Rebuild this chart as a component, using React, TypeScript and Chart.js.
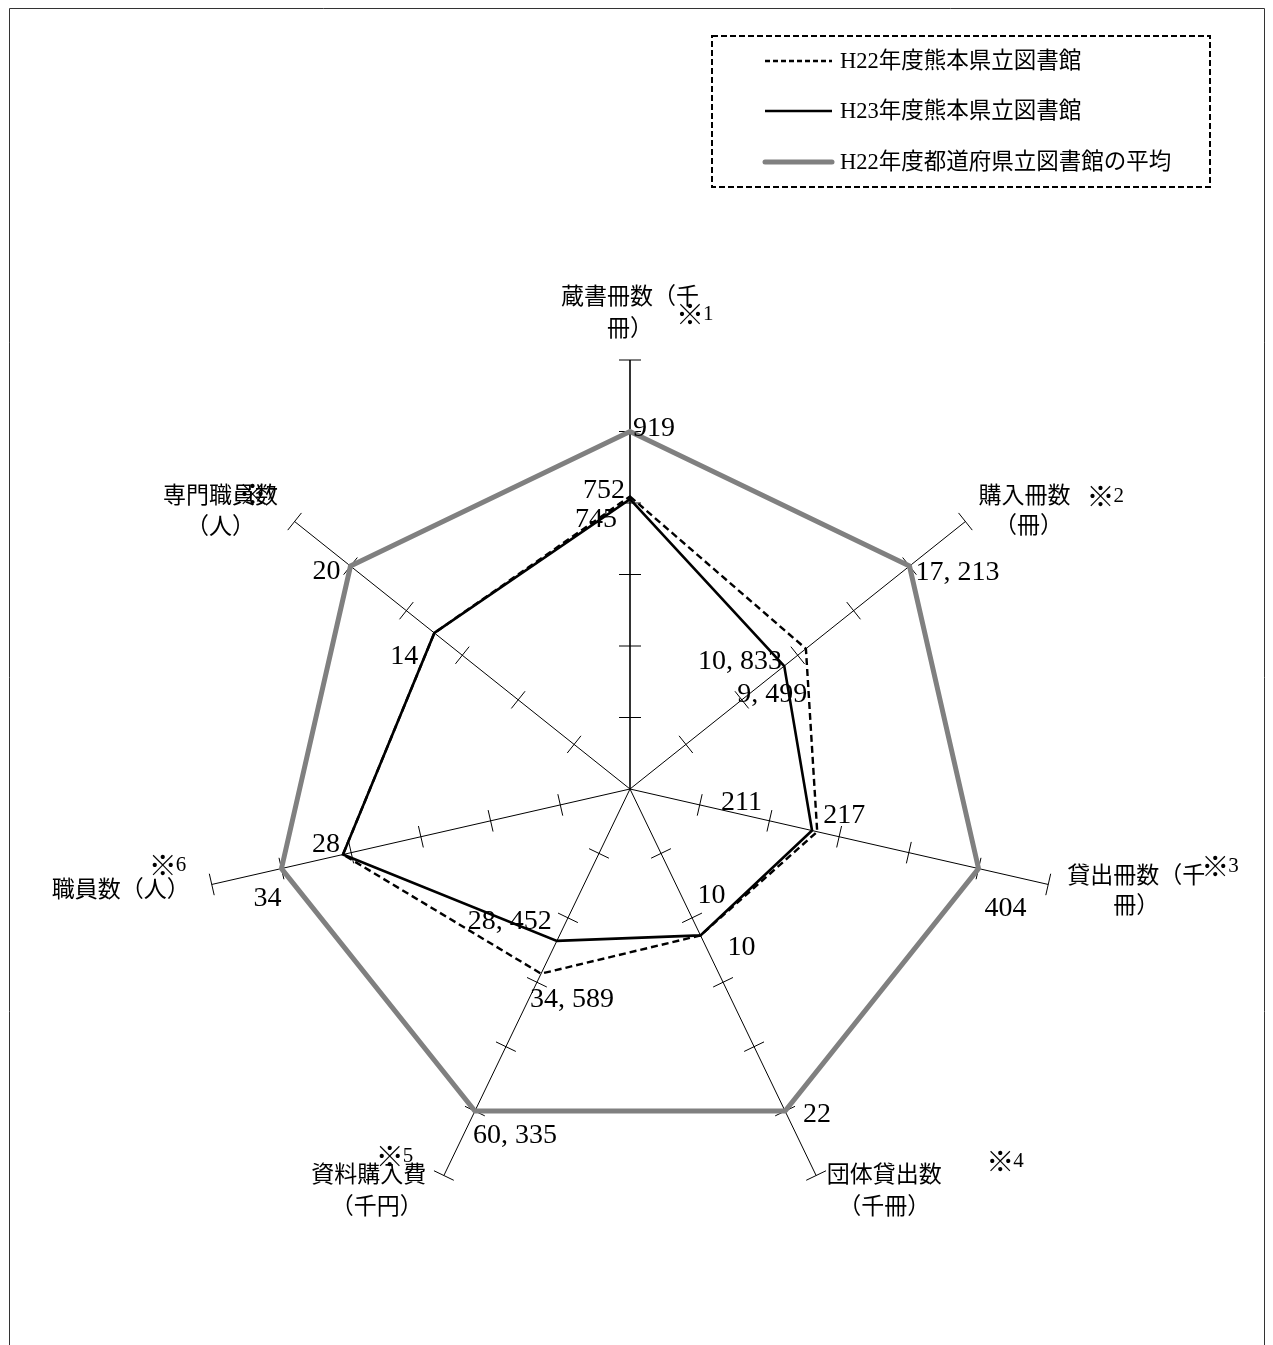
import React, { useEffect, useRef } from 'react';
import { Chart, registerables } from 'chart.js';

Chart.register(...registerables);

// ---- data ----
const categories = [
  '蔵書冊数（千冊）',
  '購入冊数（冊）',
  '貸出冊数（千冊）',
  '団体貸出数（千冊）',
  '資料購入費（千円）',
  '職員数（人）',
  '専門職員数（人）',
];
const seriesNames = [
  'H22年度熊本県立図書館',
  'H23年度熊本県立図書館',
  'H22年度都道府県立図書館の平均',
];
const h22Values = [752, 10833, 217, 10, 34589, 28, 14];
const h23Values = [745, 9499, 211, 10, 28452, 28, 14];
const avgValues = [919, 17213, 404, 22, 60335, 34, 20];
const scaleTicks = [20, 40, 60, 80, 100, 120];
const h23LabelShown = [true, true, true, true, true, false, false];

// values drawn as percentage of the national average
const toPct = (vals: number[]) => vals.map((v, i) => (v / avgValues[i]) * 100);

// ---- styles / label placement (offsets relative to the library's points) ----
const NUM_FONT = "28px 'Liberation Serif', 'Noto Sans CJK JP', serif";
const LBL_FONT = "23px 'Liberation Serif', 'Noto Sans CJK JP', serif";
const MARK_FONT = "28px 'Noto Sans CJK JP', sans-serif";
const MARK_DIGIT_FONT = "21px 'Liberation Serif', serif";
const LEG_FONT = "22.5px 'Liberation Serif', 'Noto Sans CJK JP', serif";

type Off = { a: CanvasTextAlign; dx: number; dy: number };
const avgOff: Off[] = [
  { a: 'left', dx: 3, dy: -3 },
  { a: 'left', dx: 6, dy: 7 },
  { a: 'left', dx: 6, dy: 40 },
  { a: 'left', dx: 18, dy: 4 },
  { a: 'left', dx: -2, dy: 25 },
  { a: 'left', dx: -28, dy: 30 },
  { a: 'right', dx: -10, dy: 6 },
];
const h22Off: Off[] = [
  { a: 'right', dx: -5, dy: -6 },
  { a: 'right', dx: -24, dy: 13 },
  { a: 'left', dx: 6, dy: -16 },
  { a: 'left', dx: -3, dy: -40 },
  { a: 'left', dx: -11, dy: 26 },
  { a: 'right', dx: -3, dy: -10 },
  { a: 'right', dx: -16, dy: 24 },
];
const h23Off: Off[] = [
  { a: 'right', dx: -13, dy: 20 },
  { a: 'left', dx: -47, dy: 29 },
  { a: 'right', dx: -50, dy: -28 },
  { a: 'left', dx: 27, dy: 12 },
  { a: 'right', dx: -5, dy: -19 },
  { a: 'left', dx: 0, dy: 0 },
  { a: 'left', dx: 0, dy: 0 },
];

type Piece = { t: string; a: CanvasTextAlign; dx: number; dy: number };
const axisLabelPieces: Piece[][] = [
  [
    { t: '蔵書冊数（千', a: 'center', dx: 0, dy: -62 },
    { t: '冊）', a: 'center', dx: 0, dy: -30 },
    { t: '※1', a: 'left', dx: 46, dy: -46 },
  ],
  [
    { t: '購入冊数', a: 'left', dx: 13, dy: -25 },
    { t: '※2', a: 'left', dx: 121, dy: -25 },
    { t: '（冊）', a: 'center', dx: 63, dy: 5 },
  ],
  [
    { t: '貸出冊数（千', a: 'left', dx: 19, dy: -8 },
    { t: '※3', a: 'left', dx: 153, dy: -18 },
    { t: '冊）', a: 'center', dx: 88, dy: 22 },
  ],
  [
    { t: '団体貸出数', a: 'center', dx: 68, dy: 0 },
    { t: '（千冊）', a: 'center', dx: 68, dy: 32 },
    { t: '※4', a: 'left', dx: 170, dy: -14 },
  ],
  [
    { t: '資料購入費', a: 'center', dx: -75, dy: 0 },
    { t: '（千円）', a: 'center', dx: -67, dy: 32 },
    { t: '※5', a: 'left', dx: -68, dy: -19 },
  ],
  [
    { t: '職員数（人）', a: 'right', dx: -22, dy: 6 },
    { t: '※6', a: 'left', dx: -63, dy: -19 },
  ],
  [
    { t: '専門職員数', a: 'center', dx: -74, dy: -25 },
    { t: '（人）', a: 'center', dx: -74, dy: 6 },
    { t: '※7', a: 'left', dx: -56, dy: -27 },
  ],
];

const fmt = (v: number) => v.toLocaleString('en-US').replace(/,/g, ', ');

const decorPlugin = {
  id: 'radarDecor',
  beforeDraw(chart: any) {
    const ctx = chart.ctx as CanvasRenderingContext2D;
    ctx.save();
    ctx.strokeStyle = '#333';
    ctx.lineWidth = 1;
    ctx.beginPath();
    ctx.moveTo(9.5, 1400);
    ctx.lineTo(9.5, 8.5);
    ctx.lineTo(1264.5, 8.5);
    ctx.lineTo(1264.5, 1400);
    ctx.stroke();
    ctx.restore();
  },
  beforeDatasetsDraw(chart: any) {
    const ctx = chart.ctx as CanvasRenderingContext2D;
    const scale = chart.scales.r;
    ctx.save();
    ctx.strokeStyle = '#000';
    ctx.lineWidth = 1;
    for (let i = 0; i < categories.length; i++) {
      for (const t of scaleTicks) {
        const d = scale.getDistanceFromCenterForValue(t);
        const p = scale.getPointPosition(i, d);
        const pa = p.angle + Math.PI / 2;
        const hx = Math.cos(pa) * 11;
        const hy = Math.sin(pa) * 11;
        ctx.beginPath();
        ctx.moveTo(p.x - hx, p.y - hy);
        ctx.lineTo(p.x + hx, p.y + hy);
        ctx.stroke();
      }
    }
    ctx.restore();
  },
  afterDatasetsDraw(chart: any) {
    const ctx = chart.ctx as CanvasRenderingContext2D;
    const scale = chart.scales.r;
    ctx.save();
    ctx.fillStyle = '#000';
    ctx.textBaseline = 'middle';

    // data labels
    ctx.font = NUM_FONT;
    const sets: { vals: number[]; off: Off[]; shown: boolean[] }[] = [
      { vals: avgValues, off: avgOff, shown: avgValues.map(() => true) },
      { vals: h22Values, off: h22Off, shown: h22Values.map(() => true) },
      { vals: h23Values, off: h23Off, shown: h23LabelShown },
    ];
    for (const s of sets) {
      const pct = toPct(s.vals);
      for (let i = 0; i < s.vals.length; i++) {
        if (!s.shown[i]) continue;
        const p = scale.getPointPosition(i, scale.getDistanceFromCenterForValue(pct[i]));
        ctx.textAlign = s.off[i].a;
        ctx.fillText(fmt(s.vals[i]), p.x + s.off[i].dx, p.y + s.off[i].dy);
      }
    }

    // axis labels
    const rMax = scale.getDistanceFromCenterForValue(scaleTicks[scaleTicks.length - 1]);
    for (let i = 0; i < categories.length; i++) {
      const p = scale.getPointPosition(i, rMax);
      for (const pc of axisLabelPieces[i]) {
        const x = p.x + pc.dx;
        const y = p.y + pc.dy;
        if (pc.t.startsWith('※')) {
          ctx.textAlign = 'left';
          ctx.font = MARK_FONT;
          ctx.fillText('※', x, y);
          const w = ctx.measureText('※').width;
          ctx.font = MARK_DIGIT_FONT;
          ctx.fillText(pc.t.slice(1), x + w - 1, y);
        } else {
          ctx.font = LBL_FONT;
          ctx.textAlign = pc.a;
          ctx.fillText(pc.t, x, y);
        }
      }
    }

    // legend
    const bx = 712, by = 36, bw = 498, bh = 151;
    ctx.strokeStyle = '#000';
    ctx.lineWidth = 2;
    ctx.setLineDash([6, 3]);
    ctx.strokeRect(bx, by, bw, bh);
    const rows = [61, 111, 162];
    const styles = chart.data.datasets;
    const order = [1, 0, 2]; // dataset index for legend rows (H22, H23, avg)
    ctx.font = LEG_FONT;
    ctx.textAlign = 'left';
    for (let k = 0; k < 3; k++) {
      const ds = styles[order[k]];
      ctx.save();
      ctx.strokeStyle = ds.borderColor;
      ctx.lineWidth = ds.borderWidth;
      ctx.setLineDash(k === 0 ? [5, 3] : []);
      ctx.lineCap = k === 2 ? 'round' : 'butt';
      ctx.beginPath();
      ctx.moveTo(765, rows[k]);
      ctx.lineTo(832, rows[k]);
      ctx.stroke();
      ctx.restore();
      ctx.fillText(ds.label, 840, rows[k] + 1);
    }
    ctx.restore();
  },
};

export default function App() {
  const ref = useRef<HTMLCanvasElement | null>(null);
  useEffect(() => {
    if (!ref.current) return;
    const chart = new Chart(ref.current, {
      type: 'radar',
      data: {
        labels: categories,
        datasets: [
          {
            label: seriesNames[1],
            data: toPct(h23Values),
            borderColor: '#000',
            borderWidth: 2.6,
            fill: false,
            pointRadius: 0,
            tension: 0,
            borderJoinStyle: 'miter',
          },
          {
            label: seriesNames[0],
            data: toPct(h22Values),
            borderColor: '#000',
            borderWidth: 2.4,
            borderDash: [7, 4],
            fill: false,
            pointRadius: 0,
            tension: 0,
            borderJoinStyle: 'miter',
          },
          {
            label: seriesNames[2],
            data: toPct(avgValues),
            borderColor: '#808080',
            borderWidth: 5,
            fill: false,
            pointRadius: 0,
            tension: 0,
            borderJoinStyle: 'miter',
          },
        ],
      },
      options: {
        responsive: false,
        animation: false,
        devicePixelRatio: 1,
        layout: { padding: { left: 201, right: 214, top: 360, bottom: 127 } },
        plugins: { legend: { display: false }, tooltip: { enabled: false } },
        scales: {
          r: {
            min: 0,
            max: 120,
            ticks: { display: false, stepSize: 20 },
            grid: { display: false },
            angleLines: {
              display: true,
              color: '#000',
              lineWidth: (c: any) => (c.index === 0 ? 1.6 : 1),
            },
            pointLabels: { display: false },
          },
        },
      },
      plugins: [decorPlugin],
    } as any);
    return () => chart.destroy();
  }, []);
  return (
    <div style={{ position: 'absolute', left: 0, top: 0, width: 1273, height: 1345, background: '#fff' }}>
      <canvas ref={ref} width={1273} height={1345} style={{ display: 'block' }} />
    </div>
  );
}
